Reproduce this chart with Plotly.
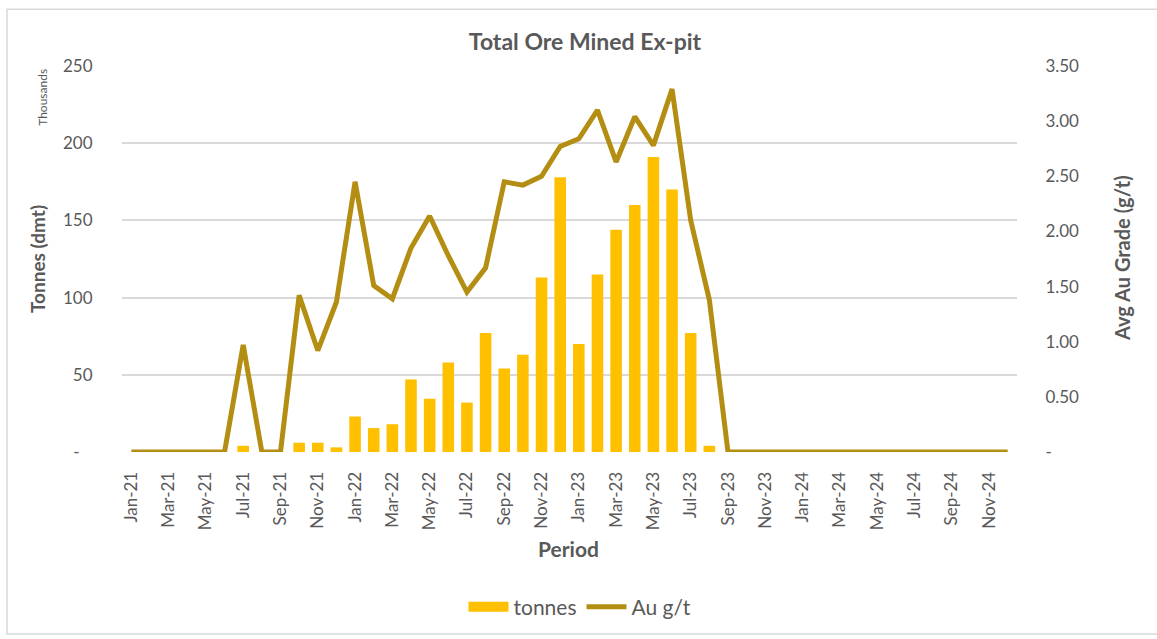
import plotly.graph_objects as go

# Monthly periods, Jan-21 .. Dec-24
periods = [
    "Jan-21", "Feb-21", "Mar-21", "Apr-21", "May-21", "Jun-21",
    "Jul-21", "Aug-21", "Sep-21", "Oct-21", "Nov-21", "Dec-21",
    "Jan-22", "Feb-22", "Mar-22", "Apr-22", "May-22", "Jun-22",
    "Jul-22", "Aug-22", "Sep-22", "Oct-22", "Nov-22", "Dec-22",
    "Jan-23", "Feb-23", "Mar-23", "Apr-23", "May-23", "Jun-23",
    "Jul-23", "Aug-23", "Sep-23", "Oct-23", "Nov-23", "Dec-23",
    "Jan-24", "Feb-24", "Mar-24", "Apr-24", "May-24", "Jun-24",
    "Jul-24", "Aug-24", "Sep-24", "Oct-24", "Nov-24", "Dec-24",
]

# Ore mined ex-pit, dry metric tonnes
tonnes = [
    0, 0, 0, 0, 0, 0,
    4000, 0, 0, 6000, 6000, 3000,
    23000, 15500, 18000, 47000, 34500, 58000,
    32000, 77000, 54000, 63000, 113000, 178000,
    70000, 115000, 144000, 160000, 191000, 170000,
    77000, 4000, 0, 0, 0, 0,
    0, 0, 0, 0, 0, 0,
    0, 0, 0, 0, 0, 0,
]

# Average Au grade, g/t
au_grade = [
    0, 0, 0, 0, 0, 0,
    0.97, 0, 0, 1.42, 0.92, 1.36,
    2.45, 1.51, 1.39, 1.85, 2.14, 1.78,
    1.45, 1.67, 2.45, 2.42, 2.50, 2.77,
    2.84, 3.10, 2.63, 3.04, 2.78, 3.29,
    2.10, 1.38, 0, 0, 0, 0,
    0, 0, 0, 0, 0, 0,
    0, 0, 0, 0, 0, 0,
]

# Axis ticks
x_tick_labels = periods[::2]
tonnes_ticks = [0, 50000, 100000, 150000, 200000, 250000]
tonnes_tick_text = ["-\u00a0\u00a0\u00a0", "50", "100", "150", "200", "250"]
grade_ticks = [0, 0.5, 1.0, 1.5, 2.0, 2.5, 3.0, 3.5]
grade_tick_text = ["-", "0.50", "1.00", "1.50", "2.00", "2.50", "3.00", "3.50"]

BAR_COLOR = "#FFC000"
LINE_COLOR = "#B48E12"
TEXT_COLOR = "#595959"
GRID_COLOR = "#D9D9D9"
FONT = "Lato"

W, H = 1157, 639
L, R, T, B = 122, 1157 - 1017, 66, 639 - 454
PW, PH = W - L - R, H - T - B


def px(x):
    return (x - L) / PW


def py(y):
    return (H - B - y) / PH


fig = go.Figure()

fig.add_trace(go.Bar(
    x=periods, y=tonnes, name="tonnes",
    marker=dict(color=BAR_COLOR, line=dict(width=0)),
    yaxis="y", showlegend=False, legendgroup="tonnes",
))

# Wide legend swatch for the tonnes series
fig.add_trace(go.Scatter(
    x=[None], y=[None], name="tonnes", mode="lines",
    line=dict(color=BAR_COLOR, width=14),
    legendgroup="tonnes", showlegend=True, hoverinfo="skip",
))

fig.add_trace(go.Scatter(
    x=periods, y=au_grade, name="Au g/t", mode="lines",
    line=dict(color=LINE_COLOR, width=5),
    yaxis="y2",
))

fig.update_layout(
    width=W, height=H,
    margin=dict(l=L, r=R, t=T, b=B),
    paper_bgcolor="white", plot_bgcolor="white",
    font=dict(family=FONT, color=TEXT_COLOR, size=16),
    bargap=0.38,
    showlegend=True,
    legend=dict(
        orientation="h", x=px(580), xanchor="center",
        y=py(610), yanchor="middle",
        font=dict(size=21, color=TEXT_COLOR),
        itemwidth=40, traceorder="normal",
    ),
    xaxis=dict(
        type="category", range=[-0.5, 47.5],
        tickmode="array", tickvals=x_tick_labels, ticktext=x_tick_labels,
        tickangle=-90, tickfont=dict(size=17, color=TEXT_COLOR),
        ticks="outside", ticklen=12, tickcolor="rgba(0,0,0,0)",
        showgrid=False, showline=False, zeroline=False,
    ),
    yaxis=dict(
        range=[0, 250000],
        tickmode="array", tickvals=tonnes_ticks, ticktext=tonnes_tick_text,
        tickfont=dict(size=17, color=TEXT_COLOR),
        ticks="outside", ticklen=25, tickcolor="rgba(0,0,0,0)",
        showgrid=True, gridcolor=GRID_COLOR, gridwidth=1.5,
        zeroline=False, showline=False,
    ),
    yaxis2=dict(
        overlaying="y", side="right",
        range=[0, 3.5],
        tickmode="array", tickvals=grade_ticks, ticktext=grade_tick_text,
        tickfont=dict(size=17, color=TEXT_COLOR),
        ticks="outside", ticklen=24, tickcolor="rgba(0,0,0,0)",
        showgrid=False, zeroline=False, showline=False,
    ),
    title=dict(
        text="<b>Total Ore Mined Ex-pit</b>",
        x=585 / W, xanchor="center", xref="container",
        y=1 - 42 / H, yanchor="middle", yref="container",
        font=dict(family=FONT, size=23, color=TEXT_COLOR),
    ),
)

# Axis titles and the display-unit label
labels = [
    ("<b>Tonnes (dmt)</b>", 37, 260, -90, 19),
    ("Thousands", 43, 98, -90, 12),
    ("<b>Avg Au Grade (g/t)</b>", 1122, 259, -90, 20),
    ("<b>Period</b>", 568, 551, 0, 21),
]
for text, lx, ly, angle, size in labels:
    fig.add_annotation(text=text, x=px(lx), y=py(ly),
                       xref="paper", yref="paper", showarrow=False,
                       xanchor="center", yanchor="middle", textangle=angle,
                       font=dict(size=size, color=TEXT_COLOR))

# Chart area frame
fig.add_shape(type="rect", xref="paper", yref="paper",
              x0=px(7), x1=px(1165), y0=py(637), y1=py(9),
              line=dict(color=GRID_COLOR, width=1.5), fillcolor="rgba(0,0,0,0)",
              layer="below")

fig.write_html("out.html")
